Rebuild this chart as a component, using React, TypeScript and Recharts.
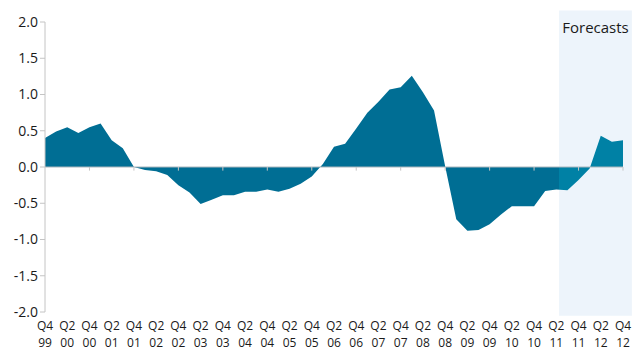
import React from "react";
import { AreaChart, Area, XAxis, YAxis, ReferenceLine, ReferenceArea } from "recharts";

// half-year tick labels, Q4 99 .. Q4 12
const tickLabels = [
  "Q4 99", "Q2 00", "Q4 00", "Q2 01", "Q4 01", "Q2 02", "Q4 02", "Q2 03", "Q4 03",
  "Q2 04", "Q4 04", "Q2 05", "Q4 05", "Q2 06", "Q4 06", "Q2 07", "Q4 07", "Q2 08",
  "Q4 08", "Q2 09", "Q4 09", "Q2 10", "Q4 10", "Q2 11", "Q4 11", "Q2 12", "Q4 12",
];

// quarterly values, Q4 99 .. Q4 12
const values = [
  0.4, 0.49, 0.55, 0.47, 0.55, 0.6, 0.37, 0.26, 0.0, -0.04, -0.06, -0.11, -0.25,
  -0.35, -0.51, -0.45, -0.39, -0.39, -0.34, -0.34, -0.31, -0.34, -0.3, -0.23, -0.13,
  0.04, 0.28, 0.32, 0.53, 0.75, 0.9, 1.07, 1.1, 1.26, 1.03, 0.78, 0.01, -0.72, -0.88,
  -0.87, -0.79, -0.66, -0.54, -0.54, -0.54, -0.33, -0.31, -0.32, -0.18, -0.02, 0.43,
  0.35, 0.37,
];

const yTicks = [-2, -1.5, -1, -0.5, 0, 0.5, 1, 1.5, 2];
const forecastStart = 46.25;
const forecastEnd = 52.8;

const FONT = "'Open Sans', sans-serif";
const MAIN = "#006e94";
const FORECAST = "#0081a5";
const GREY = "#c4c4c4";

const data = values.map((v, i) => ({ i, v }));
const xTicks = tickLabels.map((_, k) => k * 2);
const yearTicks = xTicks.filter((t) => t % 4 === 0 && t > 0);
const last = values.length - 1;

// two-line quarter label: "Q4" over "99"
const QuarterTick = (props: any) => {
  const { x, y, payload } = props;
  const label = tickLabels[Math.round(payload.value / 2)] || "";
  const [q, yr] = label.split(" ");
  return (
    <g>
      <text x={x} y={y + 10} textAnchor="middle" fontSize={12} fill="#1a1a1a" fontFamily={FONT}>
        {q}
      </text>
      <text x={x} y={y + 27} textAnchor="middle" fontSize={12} fill="#1a1a1a" fontFamily={FONT}>
        {yr}
      </text>
    </g>
  );
};

export default function App() {
  return (
    <div style={{ position: "absolute", left: 0, top: 0, background: "#fff" }}>
      <AreaChart
        width={643}
        height={351}
        data={data}
        margin={{ top: 22, right: 20, bottom: 0, left: 0 }}
      >
        <defs>
          <linearGradient id="split" x1="0" y1="0" x2="1" y2="0">
            <stop offset={forecastStart / last} stopColor={MAIN} />
            <stop offset={forecastStart / last} stopColor={FORECAST} />
          </linearGradient>
        </defs>
        <ReferenceArea
          x1={forecastStart}
          x2={forecastEnd}
          y1={-2.05}
          y2={2.16}
          ifOverflow="visible"
          fill="#edf4fb"
          fillOpacity={1}
          stroke="none"
          label={{
            value: "Forecasts",
            position: "insideTop",
            offset: 12,
            fontSize: 15,
            fill: "#1a1a1a",
            fontFamily: FONT,
          }}
        />
        <XAxis
          type="number"
          dataKey="i"
          domain={[0, last]}
          ticks={xTicks}
          interval={0}
          axisLine={false}
          tickLine={false}
          height={39}
          tick={<QuarterTick />}
        />
        <YAxis
          type="number"
          domain={[-2, 2]}
          ticks={yTicks}
          interval={0}
          width={45}
          tickFormatter={(v: number) => v.toFixed(1)}
          axisLine={{ stroke: GREY }}
          tickLine={{ stroke: GREY }}
          tickSize={5}
          tickMargin={2}
          tick={{ fontSize: 14, fill: "#1a1a1a", fontFamily: FONT }}
        />
        <Area
          type="linear"
          dataKey="v"
          baseValue={0}
          stroke="none"
          fill="url(#split)"
          fillOpacity={1}
          isAnimationActive={false}
        />
        <ReferenceLine y={0} stroke="#aab6bd" strokeWidth={1} />
        {yearTicks.map((t) => (
          <ReferenceLine
            key={t}
            segment={[{ x: t, y: 0 }, { x: t, y: -0.05 }]}
            stroke={GREY}
          />
        ))}
      </AreaChart>
    </div>
  );
}
